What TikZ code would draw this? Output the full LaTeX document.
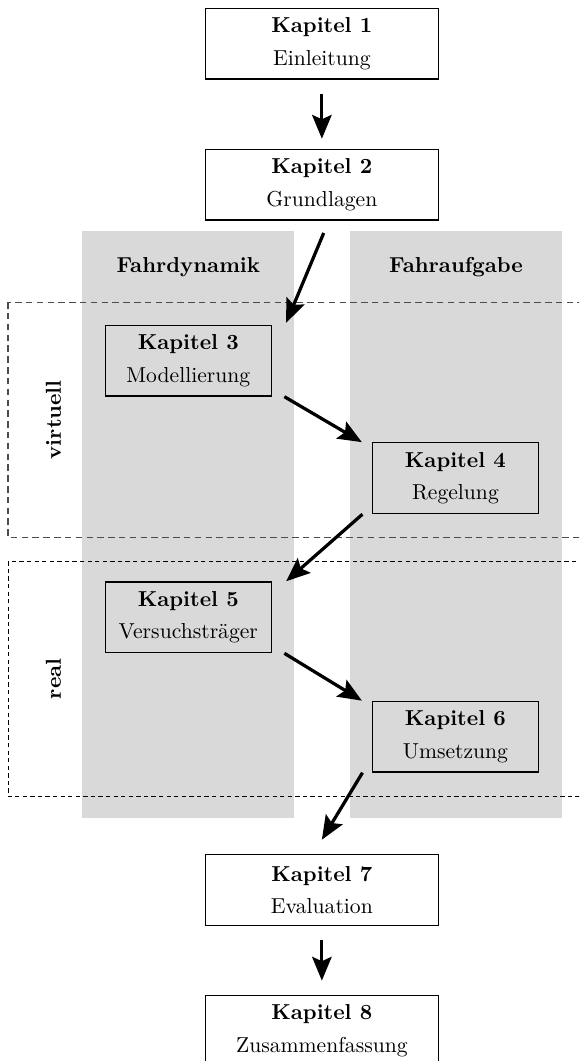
\documentclass[tikz,border=0pt]{standalone}
\usepackage{fontspec}
\usetikzlibrary{arrows.meta}
\tikzset{
	kapitel/.style={draw=black,line width=.6pt,align=center,minimum height=1.15cm,inner sep=2pt},
	mitte/.style={kapitel,fill=white,minimum width=3.79cm},
	seite/.style={kapitel,minimum width=2.7cm},
	spalte/.style={fill=black!15},
	pfeil/.style={-{Stealth[length=11pt,width=9pt,inset=2pt]},line width=1.5pt},
	ebene/.style={font=\bfseries,rotate=90},
}
\newcommand{\kap}[2]{\textbf{Kapitel #1}\\[3pt]#2}
\begin{document}
\begin{tikzpicture}
		\useasboundingbox (0,0) rectangle (9.41,-17.24);
		\clip (0,0) rectangle (9.41,-17.24);
		% Spalten
		\fill[spalte] (1.33,-3.75) rectangle (4.78,-13.29);
		\fill[spalte] (5.69,-3.75) rectangle (9.13,-13.29);
		\node[font=\bfseries] (fd) at (3.06,-4.34) {Fahrdynamik};
		\node[font=\bfseries] (fa) at (7.41,-4.34) {Fahraufgabe};
		% Ebenen
		\draw[black!70,line width=.5pt,dash pattern=on 3pt off 2pt] (0.13,-4.91) rectangle (9.6,-8.73);
		\draw[black,line width=.4pt,dash pattern=on 2pt off 1.5pt] (0.13,-9.12) rectangle (9.6,-12.94);
		\node[ebene] (virt) at (0.87,-6.82) {virtuell};
		\node[ebene] (real) at (0.87,-11.03) {real};
		% Kapitel
		\node[mitte] (k1) at (5.23,-0.71) {\kap{1}{Einleitung}};
		\node[mitte] (k2) at (5.23,-3.00) {\kap{2}{Grundlagen}};
		\node[seite] (k3) at (3.06,-5.86) {\kap{3}{Modellierung}};
		\node[seite] (k4) at (7.40,-7.77) {\kap{4}{Regelung}};
		\node[seite] (k5) at (3.06,-10.03) {\kap{5}{Versuchsträger}};
		\node[seite] (k6) at (7.40,-11.97) {\kap{6}{Umsetzung}};
		\node[mitte] (k7) at (5.23,-14.46) {\kap{7}{Evaluation}};
		\node[mitte] (k8) at (5.23,-16.75) {\kap{8}{Zusammenfassung}};
		% Pfeile
		\draw[pfeil] ([yshift=-2.3mm]k1.south) -- ([yshift=1.6mm]k2.north);
		\draw[pfeil] ([shift={(.3mm,-2mm)}]k2.south) -- ([shift={(2.3mm,.3mm)}]k3.north east);
		\draw[pfeil] ([xshift=2mm]k3.south east) -- ([xshift=-1.6mm]k4.north west);
		\draw[pfeil] ([xshift=-1.5mm]k4.south west) -- ([xshift=2.3mm]k5.north east);
		\draw[pfeil] ([xshift=2mm]k5.south east) -- ([xshift=-1.6mm]k6.north west);
		\draw[pfeil] ([xshift=-1.5mm]k6.south west) -- ([yshift=2.3mm]k7.north);
		\draw[pfeil] ([yshift=-2.3mm]k7.south) -- ([yshift=2.3mm]k8.north);
\end{tikzpicture}
\end{document}
